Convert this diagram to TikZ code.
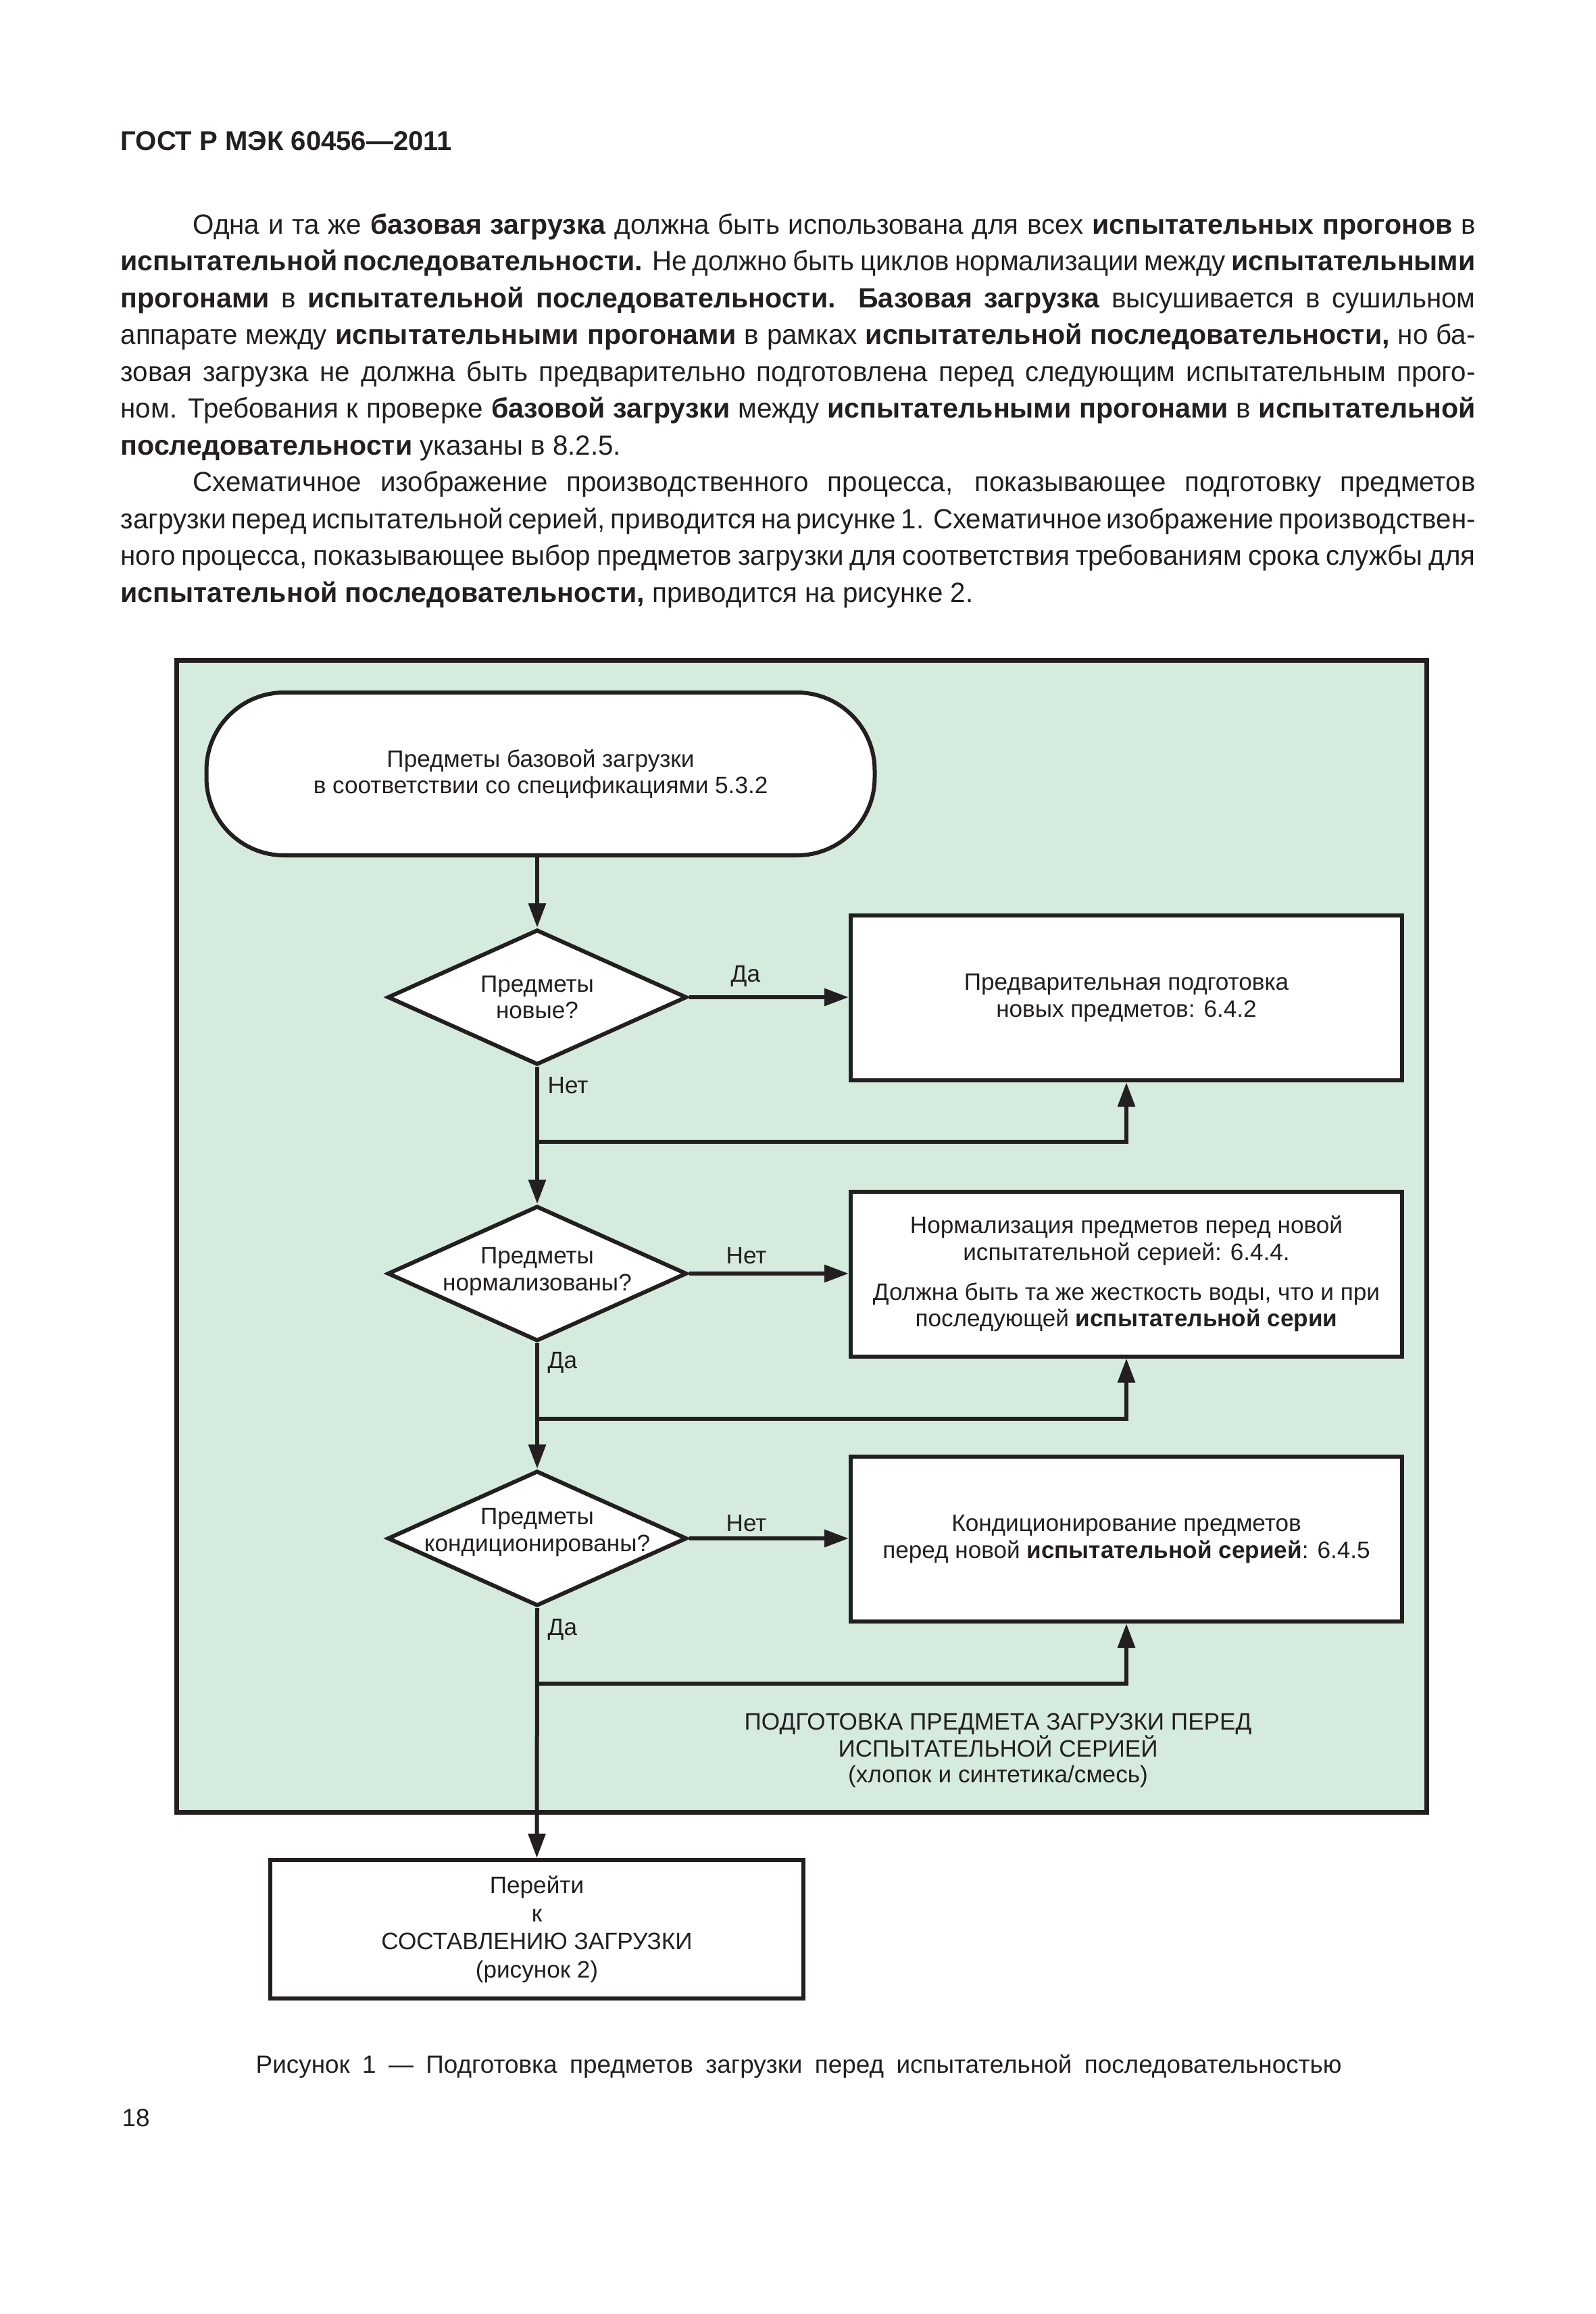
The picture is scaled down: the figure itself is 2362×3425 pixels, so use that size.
\documentclass[tikz,border=0pt]{standalone}
\usepackage{fontspec}
\setmainfont{Liberation Sans}
\newfontfamily\bodyfont{Liberation Sans}[UprightFeatures={FakeStretch=0.98}]
\usetikzlibrary{arrows.meta,shapes.geometric}
\definecolor{ink}{RGB}{35,31,32}
\definecolor{panel}{RGB}{213,235,222}
\newcommand\jline[2]{\hbox to #1{\spaceskip=0.28em plus 1fil minus 0.12em\relax #2}}
\tikzset{
  bodytext/.style={anchor=base west, inner sep=0pt, text=ink, font=\bodyfont\fontsize{11.7}{15.5}\selectfont},
  headtext/.style={anchor=base west, inner sep=0pt, text=ink, font=\fontsize{11.4}{13}\selectfont\bfseries},
  captext/.style={anchor=base west, inner sep=0pt, text=ink, font=\fontsize{10.5}{12.5}\selectfont},
  dfont/.style={text=ink, font=\fontsize{10}{11.3}\selectfont},
  framebox/.style={draw=ink, fill=panel, line width=0.7mm, inner sep=0pt},
  termbox/.style={draw=ink, fill=white, line width=0.6mm, rounded corners=11.5mm, dfont, align=center, inner sep=0pt},
  procbox/.style={draw=ink, fill=white, line width=0.6mm, dfont, align=center, inner sep=0pt, minimum width=81.6mm, minimum height=24.4mm},
  decision/.style={draw=ink, fill=white, line width=0.6mm, diamond, inner sep=0pt, minimum width=44.3mm, minimum height=20mm},
  dtext/.style={dfont, align=center, inner sep=0pt},
  lab/.style={dfont, anchor=base west, inner sep=0pt},
  flabel/.style={dfont, anchor=base, inner sep=0pt},
  conn/.style={draw=ink, line width=0.6mm, -{Triangle[length=3.6mm,width=2.5mm]}},
}
\begin{document}
\begin{tikzpicture}[x=0.1mm, y=-0.1mm]
\useasboundingbox (0,0) rectangle (2362,3425);
\fill[white] (0,0) rectangle (2362,3425);

% header
\node[headtext] (hdr) at (178,222) {ГОСТ Р МЭК 60456—2011};

% body text
\node[bodytext] (t1) at (285,346) {\jline{189.8mm}{Одна и та же \textbf{базовая загрузка} должна быть использована для всех \textbf{испытательных прогонов} в}};
\node[bodytext] (t2) at (178,400.5) {\jline{200.5mm}{\textbf{испытательной последовательности.} Не должно быть циклов нормализации между \textbf{испытательными}}};
\node[bodytext] (t3) at (178,455) {\jline{200.5mm}{\textbf{прогонами} в \textbf{испытательной последовательности. Базовая загрузка} высушивается в сушильном}};
\node[bodytext] (t4) at (178,509.5) {\jline{200.5mm}{аппарате между \textbf{испытательными прогонами} в рамках \textbf{испытательной последовательности,} но ба-}};
\node[bodytext] (t5) at (178,564) {\jline{200.5mm}{зовая загрузка не должна быть предварительно подготовлена перед следующим испытательным прого-}};
\node[bodytext] (t6) at (178,618.5) {\jline{200.5mm}{ном. Требования к проверке \textbf{базовой загрузки} между \textbf{испытательными прогонами} в \textbf{испытательной}}};
\node[bodytext] (t7) at (178,673) {\textbf{последовательности} указаны в 8.2.5.};
\node[bodytext] (t8) at (285,727.5) {\jline{189.8mm}{Схематичное изображение производственного процесса, показывающее подготовку предметов}};
\node[bodytext] (t9) at (178,782) {\jline{200.5mm}{загрузки перед испытательной серией, приводится на рисунке 1. Схематичное изображение производствен-}};
\node[bodytext] (t10) at (178,836.5) {\jline{200.5mm}{ного процесса, показывающее выбор предметов загрузки для соответствия требованиям срока службы для}};
\node[bodytext] (t11) at (178,891) {\textbf{испытательной последовательности,} приводится на рисунке 2.};

% frame
\node[framebox, minimum width=185mm, minimum height=170.5mm] (frame) at (1186,1829.5) {};

% terminal
\node[termbox, minimum width=98.9mm, minimum height=24.1mm] (start) at (800,1145.5)
  {Предметы базовой загрузки\\в соответствии со спецификациями 5.3.2};

% decisions
\node[decision] (d1) at (795,1476) {};
\node[dtext] (d1t) at (d1) {Предметы\\новые?};
\node[decision] (d2) at (795,1885) {};
\node[dtext] (d2t) at (795,1882) {Предметы\\нормализованы?};
\node[decision] (d3) at (795,2277) {};
\node[dtext] (d3t) at (795,2268) {Предметы\\кондиционированы?};

% process boxes
\node[procbox] (b1) at (1667,1477) {Предварительная подготовка\\новых предметов: 6.4.2};
\node[procbox] (b2) at (1667,1885.5) {Нормализация предметов перед новой\\испытательной серией: 6.4.4.\\[1.9mm]Должна быть та же жесткость воды, что и при\\последующей \textbf{испытательной серии}};
\node[procbox] (b3) at (1667,2278) {Кондиционирование предметов\\перед новой \textbf{испытательной серией}: 6.4.5};

% end box
\node[procbox, minimum width=78.9mm, minimum height=20.5mm, font=\fontsize{10}{11.8}\selectfont] (end) at (794.5,2855.5)
  {Перейти\\к\\СОСТАВЛЕНИЮ ЗАГРУЗКИ\\(рисунок 2)};

% frame label
\node[flabel] (fl1) at (1477,2560) {ПОДГОТОВКА ПРЕДМЕТА ЗАГРУЗКИ ПЕРЕД};
\node[flabel] (fl2) at (1477,2600) {ИСПЫТАТЕЛЬНОЙ СЕРИЕЙ};
\node[flabel] (fl3) at (1477,2638) {(хлопок и синтетика/смесь)};

% junctions
\coordinate (j1) at (795,1690);
\coordinate (j2) at (795,2100);
\coordinate (j3) at (795,2492);

% connectors
\draw[conn] (d1.north |- start.south) -- (d1.north);
\draw[conn] (d1.east) -- (d1.east -| b1.west);
\draw[conn] (d1.south) -- (d2.north);
\draw[conn] (j1) -| (b1.south);
\draw[conn] (d2.east) -- (d2.east -| b2.west);
\draw[conn] (d2.south) -- (d3.north);
\draw[conn] (j2) -| (b2.south);
\draw[conn] (d3.east) -- (d3.east -| b3.west);
\draw[conn] (d3.south) -- (end.north);
\draw[conn] (j3) -| (b3.south);

% branch labels
\node[lab] (l1) at (1081,1453) {Да};
\node[lab] (l2) at (810,1618) {Нет};
\node[lab] (l3) at (1074,1870) {Нет};
\node[lab] (l4) at (810,2025) {Да};
\node[lab] (l5) at (1074,2266) {Нет};
\node[lab] (l6) at (810,2420) {Да};

% caption and page number
\node[captext] (cap) at (378,3068) {\jline{160.7mm}{Рисунок 1 — Подготовка предметов загрузки перед испытательной последовательностью}};
\node[captext] (pg) at (180,3147) {18};
\end{tikzpicture}
\end{document}
